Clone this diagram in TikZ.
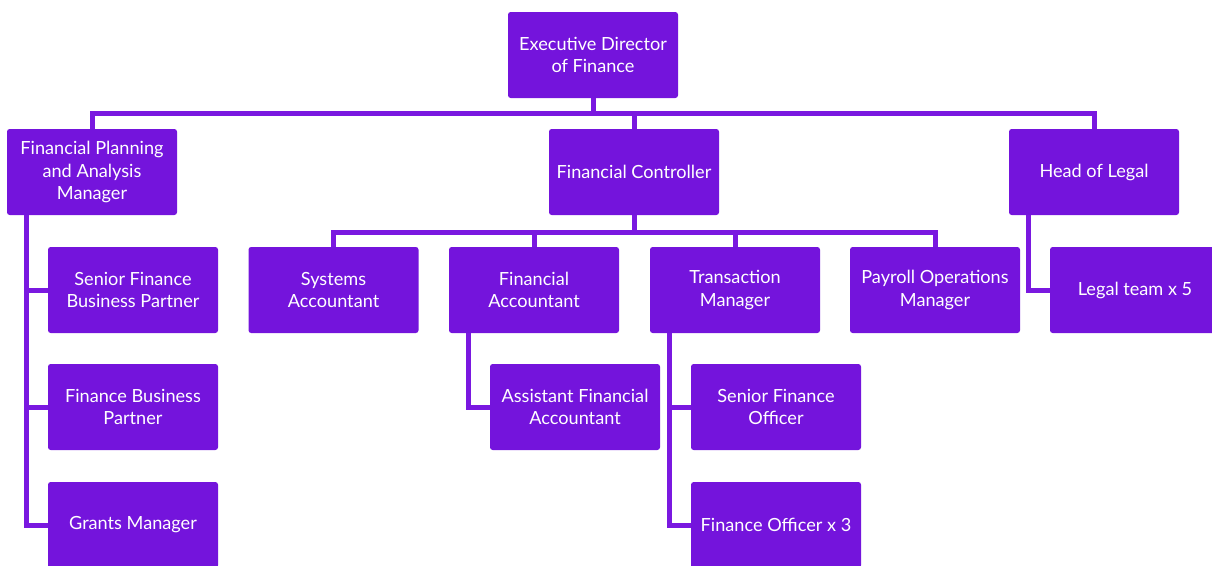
\documentclass[tikz,border=0pt]{standalone}
\usepackage{fontspec}
\setmainfont{Lato}
\usetikzlibrary{positioning}
\definecolor{OrgPurple}{HTML}{7414DC}
\definecolor{OrgLine}{HTML}{7A18E0}

\begin{document}
\begin{tikzpicture}[x=0.75pt,y=-0.75pt,
    role/.style={fill=OrgPurple,text=white,rounded corners=2pt,minimum width=127.5pt,minimum height=64.5pt,
                 align=center,inner sep=0pt,font=\fontsize{13.6}{17}\selectfont},
    link/.style={draw=OrgLine,line width=3.75pt}]
    \useasboundingbox (0,0) rectangle (1212,565);
    % top levels
    \node[role] (exec) at (593,55) {Executive Director\\of Finance};
    \node[role] (fpa) at (92,172) {Financial Planning\\and Analysis\\Manager};
    \node[role] (fc) at (634,172) {Financial Controller};
    \node[role] (hol) at (1094,172) {Head of Legal};
    % second row
    \node[role] (sfbp) at (133,290) {Senior Finance\\Business Partner};
    \node[role] (sysacc) at (333.5,290) {Systems\\Accountant};
    \node[role] (finacc) at (534,290) {Financial\\Accountant};
    \node[role] (trans) at (735,290) {Transaction\\Manager};
    \node[role] (payroll) at (935,290) {Payroll Operations\\Manager};
    \node[role] (legal) at (1135,290) {Legal team x 5};
    % third and fourth rows
    \node[role] (fbp) at (133,407) {Finance Business\\Partner};
    \node[role] (afa) at (575,407) {Assistant Financial\\Accountant};
    \node[role] (sfo) at (776,407) {Senior Finance\\Officer};
    \node[role] (grants) at (133,525) {Grants Manager};
    \node[role] (fo) at (776,525) {Finance Officer x 3};

    \foreach \n in {fpa,fc,hol}
        \draw[link] (exec.south) -- ++(0,15) -| (\n.north);
    \foreach \n in {sysacc,finacc,trans,payroll}
        \draw[link] (fc.south) -- ++(0,17) -| (\n.north);
    % side spines
    \foreach \n in {sfbp,fbp,grants}
        \draw[link] ([xshift=15pt]fpa.south west) |- (\n.west);
    \draw[link] ([xshift=15pt]hol.south west) |- (legal.west);
    \draw[link] ([xshift=15pt]finacc.south west) |- (afa.west);
    \foreach \n in {sfo,fo}
        \draw[link] ([xshift=15pt]trans.south west) |- (\n.west);
\end{tikzpicture}
\end{document}
